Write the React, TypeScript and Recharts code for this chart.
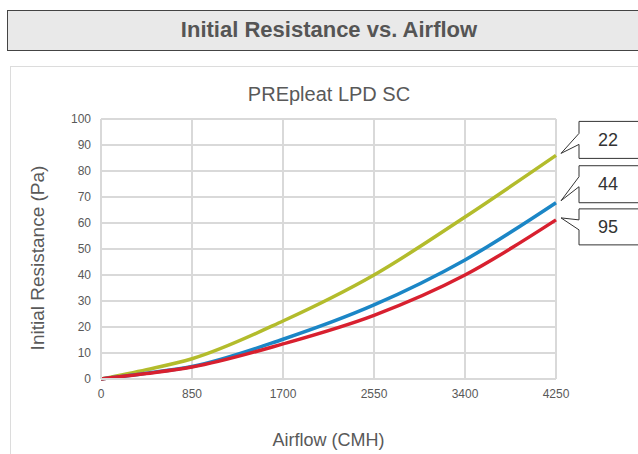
import { LineChart, Line, XAxis, YAxis, CartesianGrid, Label } from "recharts";

const airflow = [0, 425, 850, 1700, 2550, 3400, 4250];
const series22 = [0, 3.6, 7.8, 22.3, 40, 62.3, 86];
const series44 = [0, 2.2, 4.8, 15.3, 28.5, 45.8, 67.8];
const series95 = [0, 2.1, 4.6, 13.5, 24.5, 40, 61.2];

const xTicks = [0, 850, 1700, 2550, 3400, 4250];
const yTicks = [0, 10, 20, 30, 40, 50, 60, 70, 80, 90, 100];

const seriesInfo = [
  { key: "s22", name: "22", color: "#b3bc2c", boxTop: -32, boxBottom: 5, baseTop: -20, baseBottom: -9 },
  { key: "s44", name: "44", color: "#1b86c6", boxTop: -35, boxBottom: 2, baseTop: -24, baseBottom: -14 },
  { key: "s95", name: "95", color: "#d8202f", boxTop: -9, boxBottom: 27, baseTop: 2, baseBottom: 12 },
];

const data = airflow.map((a, i) => ({
  airflow: a,
  s22: series22[i],
  s44: series44[i],
  s95: series95[i],
}));

const FONT = "'Liberation Sans', Arial, sans-serif";
const TEXT = "#595959";
const GRID = "#d9d9d9";

function makeCallout(info: (typeof seriesInfo)[number]) {
  return (props: any) => {
    const { x, y, index } = props;
    if (index !== data.length - 1) return null;
    const tx = x + 5;
    const ty = y - 2;
    const bx = tx + 18;
    const path = [
      `M${bx},${ty + info.baseTop}`,
      `L${bx},${ty + info.boxTop}`,
      `L${bx + 80},${ty + info.boxTop}`,
      `L${bx + 80},${ty + info.boxBottom}`,
      `L${bx},${ty + info.boxBottom}`,
      `L${bx},${ty + info.baseBottom}`,
      `L${tx},${ty}`,
      "Z",
    ].join(" ");
    return (
      <g key={`callout-${info.key}`}>
        <path d={path} fill="#fff" stroke="#333" strokeWidth={1} />
        <text
          x={bx + 29}
          y={ty + (info.boxTop + info.boxBottom) / 2 + 6}
          textAnchor="middle"
          fontSize={18}
          fill="#333"
          fontFamily={FONT}
        >
          {info.name}
        </text>
      </g>
    );
  };
}

export default function App() {
  return (
    <div
      style={{
        position: "absolute",
        left: 0,
        top: 0,
        width: 638,
        height: 454,
        overflow: "hidden",
        background: "#fff",
        fontFamily: FONT,
      }}
    >
      <div
        style={{
          position: "absolute",
          left: 7,
          top: 10,
          width: 660,
          height: 41,
          background: "#e9e9e9",
          border: "1px solid #444",
          boxSizing: "border-box",
        }}
      />
      <div
        style={{
          position: "absolute",
          left: 0,
          top: 17,
          width: 658,
          textAlign: "center",
          fontSize: 22,
          fontWeight: "bold",
          color: "#555",
        }}
      >
        Initial Resistance vs. Airflow
      </div>
      <div
        style={{
          position: "absolute",
          left: 10,
          top: 66,
          width: 660,
          height: 420,
          border: "1px solid #dcdcdc",
          boxSizing: "border-box",
        }}
      />
      <div
        style={{
          position: "absolute",
          left: 0,
          top: 83,
          width: 658,
          textAlign: "center",
          fontSize: 20,
          color: TEXT,
        }}
      >
        PREpleat LPD SC
      </div>
      <div style={{ position: "absolute", left: 0, top: 0 }}>
        <LineChart
          width={638}
          height={454}
          data={data}
          margin={{ top: 119, right: 82, left: 0, bottom: 0 }}
          style={{ overflow: "visible" }}
        >
          <CartesianGrid stroke={GRID} strokeWidth={2} />
          <XAxis
            dataKey="airflow"
            type="number"
            domain={[0, 4250]}
            ticks={xTicks}
            height={75}
            tickLine={false}
            tickSize={0}
            tickMargin={10}
            axisLine={{ stroke: GRID, strokeWidth: 2 }}
            tick={{ fill: TEXT, fontSize: 12, fontFamily: FONT }}
          >
            <Label
              value="Airflow (CMH)"
              position="insideBottom"
              offset={8}
              fill={TEXT}
              fontSize={18}
              fontFamily={FONT}
            />
          </XAxis>
          <YAxis
            type="number"
            domain={[0, 100]}
            ticks={yTicks}
            width={101}
            tickLine={false}
            tickSize={0}
            tickMargin={10}
            axisLine={{ stroke: GRID, strokeWidth: 2 }}
            tick={{ fill: TEXT, fontSize: 12, fontFamily: FONT }}
          >
            <Label
              content={() => (
                <text
                  x={37}
                  y={258}
                  transform="rotate(-90 37 258)"
                  textAnchor="middle"
                  dominantBaseline="central"
                  fill={TEXT}
                  fontSize={19}
                  fontFamily={FONT}
                >
                  Initial Resistance (Pa)
                </text>
              )}
            />
          </YAxis>
          {seriesInfo.map((s) => (
            <Line
              key={s.key}
              dataKey={s.key}
              type="monotone"
              stroke={s.color}
              strokeWidth={3.5}
              dot={false}
              activeDot={false}
              isAnimationActive={false}
              label={makeCallout(s)}
            />
          ))}
        </LineChart>
      </div>
    </div>
  );
}
